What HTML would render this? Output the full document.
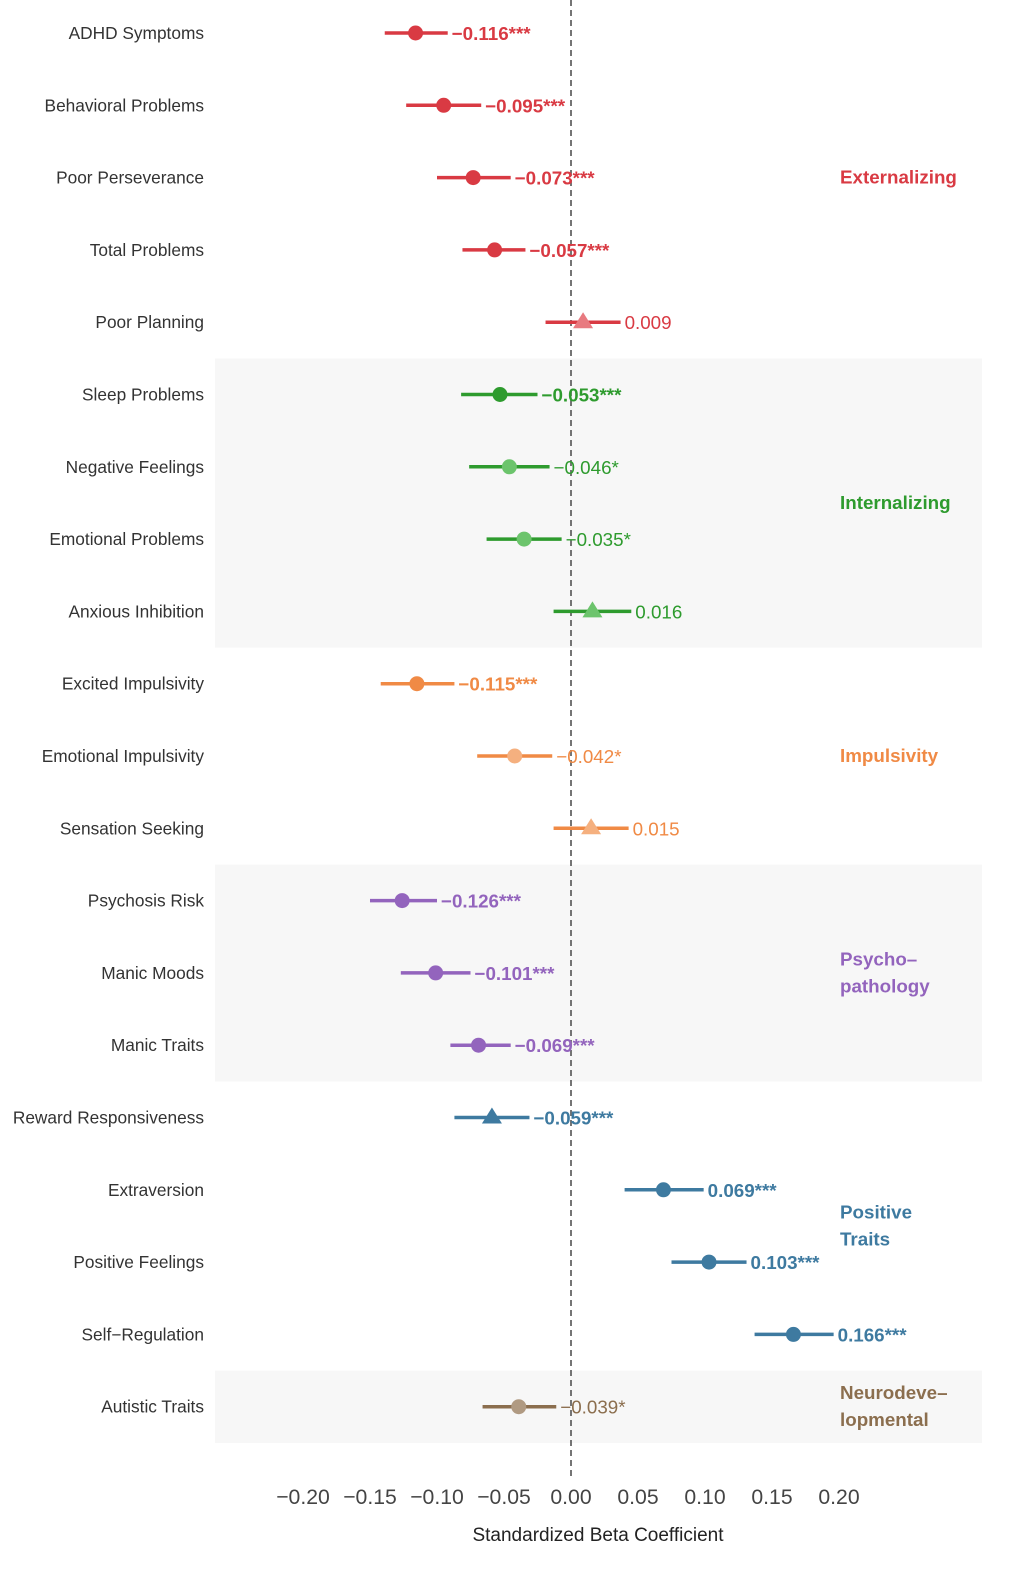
<!DOCTYPE html>
<html><head><meta charset="utf-8">
<style>
body{margin:0;background:#fff;}
svg{display:block;font-family:"Liberation Sans",sans-serif;}
</style></head>
<body>
<svg id="chart" width="1010" height="1589" viewBox="0 0 1010 1589" xmlns="http://www.w3.org/2000/svg"></svg>
<script>
const labels=["ADHD Symptoms","Behavioral Problems","Poor Perseverance","Total Problems","Poor Planning","Sleep Problems","Negative Feelings","Emotional Problems","Anxious Inhibition","Excited Impulsivity","Emotional Impulsivity","Sensation Seeking","Psychosis Risk","Manic Moods","Manic Traits","Reward Responsiveness","Extraversion","Positive Feelings","Self\u2212Regulation","Autistic Traits"];
const betas=[-0.116,-0.095,-0.073,-0.057,0.009,-0.053,-0.046,-0.035,0.016,-0.115,-0.042,0.015,-0.126,-0.101,-0.069,-0.059,0.069,0.103,0.166,-0.039];
const ciLow=[-0.139,-0.123,-0.100,-0.081,-0.019,-0.082,-0.076,-0.063,-0.013,-0.142,-0.070,-0.013,-0.150,-0.127,-0.090,-0.087,0.040,0.075,0.137,-0.066];
const ciHigh=[-0.092,-0.067,-0.045,-0.034,0.037,-0.025,-0.016,-0.007,0.045,-0.087,-0.014,0.043,-0.100,-0.075,-0.045,-0.031,0.099,0.131,0.196,-0.011];
const stars=["***","***","***","***","","***","*","*","","***","*","","***","***","***","***","***","***","***","*"];
const groups=[0,0,0,0,0,1,1,1,1,2,2,2,3,3,3,4,4,4,4,5];
const shapes=["c","c","c","c","t","c","c","c","t","c","c","t","c","c","c","t","c","c","c","c"];
const groupNames=[["Externalizing"],["Internalizing"],["Impulsivity"],["Psycho\u2013","pathology"],["Positive","Traits"],["Neurodeve\u2013","lopmental"]];
const groupColors=["#d93a43","#2e9b2e","#f08a45","#9364bd","#3e7aa0","#8b6e4e"];
const lightColors=["#e87a80","#6cc46c","#f5b07f","#b594d4","#7ea7c4","#b09a82"];
const ticks=[-0.20,-0.15,-0.10,-0.05,0,0.05,0.10,0.15,0.20];

const svg=document.getElementById('chart');
const NS="http://www.w3.org/2000/svg";
const x=v=>571+v*1340;
const y=i=>33+i*72.3;
function mk(tag,attrs,parent){const e=document.createElementNS(NS,tag);for(const k in attrs)e.setAttribute(k,attrs[k]);(parent||svg).appendChild(e);return e;}
const fmt=v=>(v<0?"\u2212":"")+Math.abs(v).toFixed(3);

[[1],[3],[5]].forEach(([g])=>{
  const idx=groups.map((gg,i)=>gg===g?i:-1).filter(i=>i>=0);
  const r=mk('rect',{x:215,y:y(idx[0])-36,width:767,height:idx.length*72.3,fill:'#f7f7f7'});
  
  
});
const zl=mk('line',{x1:x(0),x2:x(0),y1:0,y2:1480,stroke:'#666',"stroke-width":1.8,"stroke-dasharray":"6,4"});



labels.forEach((lab,i)=>{
  const g=groups[i];const col=groupColors[g];const sig=stars[i]==="***";
  const t=mk('text',{x:204,y:y(i)+6,"text-anchor":"end","font-size":17.3,fill:'#333'});
  t.textContent=lab;
  
  
  const l=mk('line',{x1:x(ciLow[i]),x2:x(ciHigh[i]),y1:y(i),y2:y(i),stroke:col,"stroke-width":3.5});
  
  
  const fill=sig?col:lightColors[g];
  let m;
  if(shapes[i]==="c"){m=mk('circle',{cx:x(betas[i]),cy:y(i),r:7.5,fill:fill});}
  else{const cx=x(betas[i]),cy=y(i);m=mk('polygon',{points:`${cx},${cy-10} ${cx-10},${cy+6} ${cx+10},${cy+6}`,fill:fill});}
  
  
  const vt=mk('text',{x:x(ciHigh[i])+4,y:y(i)+7,"font-size":18.8,fill:col,"font-weight":sig?"bold":"normal"});
  vt.textContent=fmt(betas[i])+stars[i];
  
  
});
groupNames.forEach((lines,g)=>{
  const idx=groups.map((gg,i)=>gg===g?i:-1).filter(i=>i>=0);
  const cy=(y(idx[0])+y(idx[idx.length-1]))/2;
  lines.forEach((ln,k)=>{
    const t=mk('text',{x:840,y:cy+6+(k-(lines.length-1)/2)*27,"font-size":18.8,"font-weight":"bold",fill:groupColors[g]});
    t.textContent=ln;
    
    
  });
});
ticks.forEach(v=>{
  const t=mk('text',{x:x(v),y:1504,"text-anchor":"middle","font-size":21.2,fill:'#444'});
  t.textContent=(v<0?"\u2212":"")+Math.abs(v).toFixed(2);
  
  
});
const at=mk('text',{x:598,y:1541,"text-anchor":"middle","font-size":19,fill:'#222'});
at.textContent="Standardized Beta Coefficient";


</script>
</body></html>
